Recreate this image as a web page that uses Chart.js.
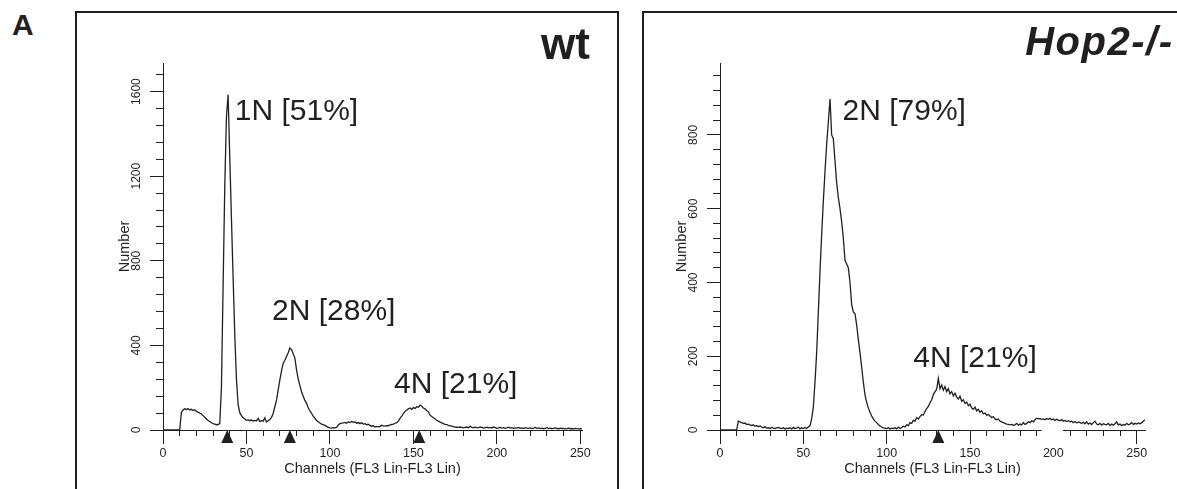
<!DOCTYPE html>
<html lang="en">
    <head>
        <meta charset="UTF-8">
        <title>DNA content histograms: wt and Hop2-/-</title>
        <script src="https://cdn.jsdelivr.net/npm/chart.js"></script>
        <style>
            html, body {
                margin: 0;
                padding: 0;
                background: #ffffff;
            }

            body {
                position: relative;
                width: 1177px;
                height: 489px;
                overflow: hidden;
                font-family: 'Liberation Sans', Arial, sans-serif;
                color: #231f20;
            }

            .frame {
                position: absolute;
                top: 11px;
                height: 500px;
                box-sizing: border-box;
                border: 2px solid #231f20;
                border-bottom: none;
            }
            #frame-wt { left: 75px; width: 544px; }
            #frame-hop { left: 642px; width: 600px; }

            .plot {
                position: absolute;
                top: 13px;
                height: 476px;
            }
            #plot-wt { left: 77px; width: 540px; }
            #plot-hop { left: 634px; width: 543px; }

            .tag {
                position: absolute;
                font-weight: bold;
                white-space: nowrap;
            }
            #panel-letter { left: 12px; top: 10px; font-size: 30px; line-height: 30px; }
            #tag-wt { right: 587px; top: 22px; font-size: 44px; line-height: 44px; }
            #tag-hop { right: 3.5px; top: 21px; font-size: 40px; line-height: 40px; font-style: italic; letter-spacing: 1.5px; }
        </style>
    </head>
    <body>
        <div class="tag" id="panel-letter">A</div>
        <div class="frame" id="frame-wt"></div>
        <div class="frame" id="frame-hop"></div>

        <div class="plot" id="plot-wt"><canvas id="chart-wt"></canvas></div>
        <div class="plot" id="plot-hop"><canvas id="chart-hop"></canvas></div>

        <div class="tag" id="tag-wt">wt</div>
        <div class="tag" id="tag-hop">Hop2-/-</div>

        <script>
            // counts per channel, index = channel number
            const wtCounts = [
                0, 0, 0, 0, 0, 0, 0, 0, 0, 0,
                0, 82, 95, 100, 97, 101, 95, 98, 92, 96,
                88, 85, 80, 76, 68, 60, 52, 45, 40, 34,
                30, 28, 25, 26, 30, 200, 680, 1150, 1480, 1585,
                1290, 1000, 720, 450, 240, 120, 82, 68, 58, 52,
                46, 48, 44, 47, 42, 45, 43, 55, 40, 44,
                42, 58, 38, 44, 50, 60, 78, 110, 142, 190,
                237, 280, 316, 330, 347, 365, 388, 380, 360, 340,
                284, 240, 210, 181, 160, 140, 126, 105, 90, 79,
                65, 55, 45, 39, 33, 28, 25, 22, 17, 12,
                10, 9, 11, 10, 12, 24, 30, 33, 34, 36,
                32, 38, 35, 40, 36, 38, 32, 35, 30, 34,
                28, 30, 25, 27, 22, 18, 20, 14, 17, 15,
                17, 22, 19, 18, 21, 20, 24, 26, 28, 32,
                35, 42, 55, 65, 78, 88, 95, 100, 104, 98,
                106, 102, 110, 108, 118, 112, 104, 100, 92, 86,
                70, 64, 58, 52, 46, 42, 37, 34, 30, 27,
                25, 22, 20, 18, 16, 14, 13, 12, 14, 12,
                10, 12, 14, 11, 18, 12, 10, 13, 11, 10,
                14, 12, 9, 11, 13, 10, 12, 9, 14, 11,
                8, 10, 12, 9, 11, 8, 10, 13, 9, 11,
                8, 10, 9, 12, 8, 10, 7, 11, 9, 8,
                10, 7, 9, 12, 8, 10, 7, 9, 6, 8,
                11, 7, 9, 6, 8, 10, 7, 6, 9, 7,
                8, 5, 7, 9, 6, 7, 5, 8, 6, 5,
                6, 5
            ];

            const hopCounts = [
                0, 0, 0, 0, 0, 0, 0, 0, 0, 0,
                0, 24, 22, 20, 18, 19, 15, 16, 14, 12,
                14, 10, 12, 9, 11, 8, 6, 9, 5, 6,
                4, 7, 5, 4, 6, 7, 5, 4, 6, 3,
                5, 4, 6, 3, 7, 4, 5, 8, 3, 6,
                4, 7, 4, 8, 12, 30, 62, 130, 210, 320,
                430, 530, 620, 700, 775, 835, 897, 800, 790, 730,
                670, 630, 600, 565, 520, 460, 450, 440, 400, 340,
                320, 315, 285, 245, 210, 170, 130, 95, 75, 60,
                48, 38, 30, 24, 20, 15, 11, 8, 6, 5,
                4, 6, 3, 5, 4, 6, 3, 8, 4, 7,
                10, 8, 14, 12, 20, 18, 26, 24, 34, 30,
                36, 42, 40, 50, 58, 64, 74, 82, 96, 104,
                110, 140, 112, 122, 108, 118, 104, 112, 98, 104,
                92, 100, 90, 84, 92, 78, 82, 72, 76, 66,
                70, 60, 56, 62, 52, 56, 48, 52, 44, 46,
                40, 42, 38, 34, 36, 30, 28, 30, 24, 22,
                20, 18, 16, 15, 14, 15, 13, 14, 18, 13,
                16, 14, 20, 15, 18, 22, 20, 25, 22, 28,
                32, 30, 31, 29, 30, 28, 31, 29, 32, 28,
                30, 26, 29, 27, 25, 28, 24, 26, 23, 25,
                22, 24, 20, 23, 19, 22, 20, 18, 21, 17,
                22, 16, 19, 15, 20, 24, 16, 14, 18, 13,
                17, 15, 14, 18, 12, 16, 13, 17, 22, 14,
                16, 12, 15, 13, 18, 14, 16, 20, 15, 18,
                16, 19, 17, 20, 24, 28
            ];

            const xTickLabels = [0, 50, 100, 150, 200, 250];
            const wtYTickLabels = [0, 400, 800, 1200, 1600];
            const hopYTickLabels = [0, 200, 400, 600, 800];

            // gate markers (channel)
            const wtMarkers = [38.5, 76, 153.5];
            const hopMarkers = [131];

            const wtPeakLabels = ['1N [51%]', '2N [28%]', '4N [21%]'];
            const hopPeakLabels = ['2N [79%]', '4N [21%]'];
            // where each label starts: [channel, count] of its baseline-left corner
            const wtPeakAt = [[43, 1467], [65.3, 521], [138.4, 175]];
            const hopPeakAt = [[73.5, 841], [116, 172]];

            const INK = '#231f20';
            const FONT = "'Liberation Sans', Arial, sans-serif";

            function crisp(p) {
                return Math.round(p - 0.5) + 0.5;
            }

            const panelDecor = {
                id: 'panelDecor',
                afterDraw(chart, args, opts) {
                    const ctx = chart.ctx;
                    const xs = chart.scales.x;
                    const ys = chart.scales.y;
                    const left = chart.chartArea.left;
                    const base = chart.chartArea.bottom;

                    ctx.save();
                    ctx.strokeStyle = INK;
                    ctx.fillStyle = INK;
                    ctx.lineWidth = 1;

                    // labelled ticks are longer than the minor ones
                    ctx.beginPath();
                    xTickLabels.forEach(v => {
                        const px = crisp(xs.getPixelForValue(v));
                        ctx.moveTo(px, base);
                        ctx.lineTo(px, base + 14);
                    });
                    opts.yLabels.forEach(v => {
                        const py = crisp(ys.getPixelForValue(v));
                        ctx.moveTo(left - 13, py);
                        ctx.lineTo(left, py);
                    });
                    ctx.stroke();

                    // y tick labels run upward
                    ctx.font = '12px ' + FONT;
                    ctx.textAlign = 'center';
                    ctx.textBaseline = 'middle';
                    opts.yLabels.forEach(v => {
                        ctx.save();
                        ctx.translate(left - 26, ys.getPixelForValue(v));
                        ctx.rotate(-Math.PI / 2);
                        ctx.fillText(String(v), 0, 0);
                        ctx.restore();
                    });

                    if (opts.axisGap) {
                        const g0 = xs.getPixelForValue(opts.axisGap[0]);
                        const g1 = xs.getPixelForValue(opts.axisGap[1]);
                        ctx.fillStyle = '#ffffff';
                        ctx.fillRect(g0, base - 1.5, g1 - g0, 17);
                        ctx.fillStyle = INK;
                    }

                    opts.markers.forEach(c => {
                        const px = xs.getPixelForValue(c);
                        ctx.beginPath();
                        ctx.moveTo(px, base);
                        ctx.lineTo(px + 6, base + 13);
                        ctx.lineTo(px - 6, base + 13);
                        ctx.closePath();
                        ctx.fill();
                    });

                    ctx.font = '30px ' + FONT;
                    ctx.textAlign = 'left';
                    ctx.textBaseline = 'alphabetic';
                    opts.peakLabels.forEach((text, i) => {
                        const at = opts.peakAt[i];
                        ctx.fillText(text, xs.getPixelForValue(at[0]), ys.getPixelForValue(at[1]));
                    });

                    ctx.restore();
                }
            };

            function buildPanel(canvasId, counts, cfg) {
                const points = counts.map((n, ch) => ({ x: ch, y: n }));

                return new Chart(document.getElementById(canvasId), {
                    type: 'line',
                    data: {
                        datasets: [{
                            data: points,
                            borderColor: INK,
                            borderWidth: 1.3,
                            pointRadius: 0,
                            tension: 0,
                            fill: false
                        }]
                    },
                    options: {
                        responsive: true,
                        maintainAspectRatio: false,
                        animation: false,
                        devicePixelRatio: 1,
                        layout: {
                            padding: { top: 50, right: cfg.padRight, bottom: 0, left: 0 }
                        },
                        plugins: {
                            legend: { display: false },
                            tooltip: { enabled: false },
                            panelDecor: {
                                yLabels: cfg.yLabels,
                                markers: cfg.markers,
                                peakLabels: cfg.peakLabels,
                                peakAt: cfg.peakAt,
                                axisGap: cfg.axisGap
                            }
                        },
                        scales: {
                            x: {
                                type: 'linear',
                                min: 0,
                                max: cfg.xMax,
                                afterBuildTicks: s => { s.ticks = s.ticks.filter(t => t.value % 10 === 0); },
                                afterFit: s => { s.height = 59; },
                                ticks: {
                                    stepSize: 10,
                                    includeBounds: false,
                                    autoSkip: false,
                                    maxRotation: 0,
                                    padding: 10,
                                    color: INK,
                                    font: { family: FONT, size: 12.5 },
                                    callback: v => xTickLabels.includes(v) ? String(v) : ''
                                },
                                grid: {
                                    drawOnChartArea: false,
                                    drawTicks: true,
                                    tickLength: 6,
                                    color: INK,
                                    lineWidth: 1
                                },
                                border: { display: true, color: INK, width: 1 },
                                title: {
                                    display: true,
                                    text: 'Channels (FL3 Lin-FL3 Lin)',
                                    color: INK,
                                    font: { family: FONT, size: 14.5 },
                                    padding: { top: 0, bottom: 11 }
                                }
                            },
                            y: {
                                type: 'linear',
                                min: 0,
                                max: cfg.yMax,
                                afterBuildTicks: s => { s.ticks = s.ticks.filter(t => t.value % cfg.yStep === 0); },
                                afterFit: s => { s.width = 86; },
                                ticks: { stepSize: cfg.yStep, includeBounds: false, display: false },
                                grid: {
                                    drawOnChartArea: false,
                                    drawTicks: true,
                                    tickLength: 7,
                                    color: INK,
                                    lineWidth: 1
                                },
                                border: { display: true, color: INK, width: 1 },
                                title: {
                                    display: true,
                                    text: 'Number',
                                    color: INK,
                                    font: { family: FONT, size: 14.5 },
                                    padding: { top: 39, bottom: 0 }
                                }
                            }
                        }
                    },
                    plugins: [panelDecor]
                });
            }

            buildPanel('chart-wt', wtCounts, {
                xMax: 251,
                padRight: 35,
                yMax: 1735,
                yStep: 80,
                yLabels: wtYTickLabels,
                markers: wtMarkers,
                peakLabels: wtPeakLabels,
                peakAt: wtPeakAt
            });

            buildPanel('chart-hop', hopCounts, {
                xMax: 255,
                padRight: 32,
                yMax: 995,
                yStep: 40,
                yLabels: hopYTickLabels,
                markers: hopMarkers,
                peakLabels: hopPeakLabels,
                peakAt: hopPeakAt,
                axisGap: [193, 205.8]
            });
        </script>
    </body>
</html>
